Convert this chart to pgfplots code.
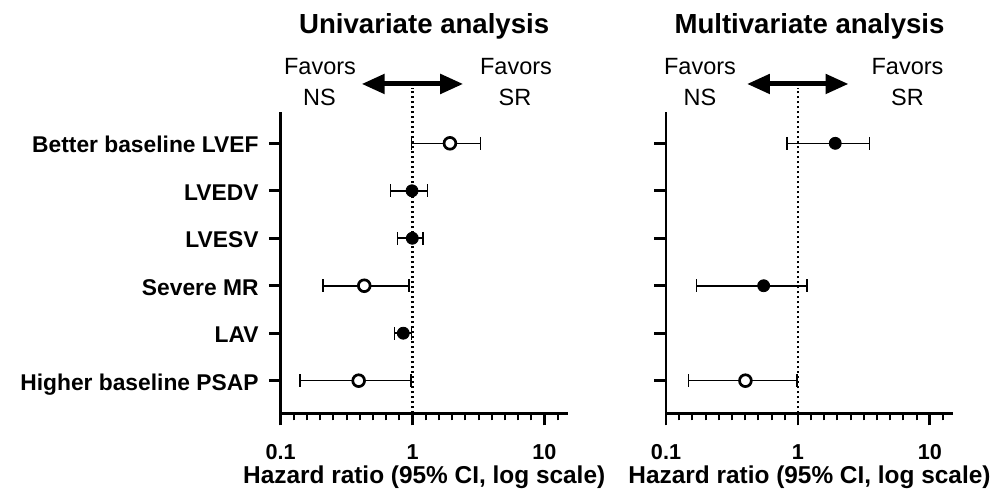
\documentclass[border=0pt]{standalone}
\usepackage{fontspec}
\setmainfont{Liberation Sans}
\usepackage{pgfplots}
\pgfplotsset{compat=1.18}
\usetikzlibrary{arrows.meta}

\pgfplotsset{
 hrbar/.style={black, line width=0.8pt, mark=|, mark size=3.2pt, mark options={solid, line width=0.8pt}},
 hrfill/.style={only marks, mark=*, mark size=3pt, mark options={fill=black, draw=black}},
 hropen/.style={only marks, mark=*, mark size=2.95pt, mark options={fill=white, draw=black, line width=1.35pt}},
 hrref/.style={black, line width=1.2pt, dash pattern=on 1.2pt off 1.3pt},
}
\tikzset{dblarrow/.style={line width=2.5pt, {Triangle[length=11.5pt,width=9.5pt]}-{Triangle[length=11.5pt,width=9.5pt]}}}

\begin{document}
\begin{tikzpicture}
\path[use as bounding box] (0,0) rectangle (500pt,245pt);

% ---------------- Univariate ----------------
\begin{axis}[
   xmode=log, log basis x=10, xmin=0.1, xmax=15, ymin=0.313, ymax=6.666,
   scale only axis, width=143.5pt, height=150.8pt,
   at={(140.35pt,38.35pt)}, anchor=south west,
   axis lines=left, axis line style={-, line width=1.35pt, black},
   tick align=outside, major tick length=6pt, minor tick length=3.5pt,
   major tick style={line width=1.35pt, black}, minor tick style={line width=1pt, black},
   xtick={0.1,1,10}, xticklabels={0.1,1,10},
   minor xtick={0.12589,0.15849,0.19953,0.25119,0.31623,0.39811,0.50119,0.63096,0.79433,1.2589,1.5849,1.9953,2.5119,3.1623,3.9811,5.0119,6.3096,7.9433,12.589},
   ytick={1,2,3,4,5,6},
   xticklabel style={font=\bfseries\fontsize{10.8}{12}\selectfont, anchor=base, inner sep=0pt, yshift=-17.3pt},
   xlabel={Hazard ratio (95\% CI, log scale)},
   xlabel style={font=\bfseries\fontsize{12.2}{14}\selectfont, at={(axis description cs:0.5,0)}, anchor=base, inner sep=0pt, yshift=-35.3pt},
   title={Univariate analysis},
   title style={font=\bfseries\fontsize{13.8}{16}\selectfont, at={(axis description cs:0.5,1)}, anchor=base, inner sep=0pt, yshift=33.2pt},
   clip=false,
   yticklabels={Higher baseline PSAP, LAV, Severe MR, LVESV, LVEDV, Better baseline LVEF},
   yticklabel style={font=\bfseries\fontsize{11.4}{13}\selectfont, anchor=base east, inner sep=0pt, xshift=-4.9pt, yshift=-4.7pt},
]
\addplot[hrref] coordinates {(1,0.313) (1,7.165)};
\draw[dblarrow] (axis cs:0.411,7.25) -- (axis cs:2.42,7.25);
% CI bars (lower, upper)
\addplot[hrbar] coordinates {(0.98,6) (3.27,6)};
\addplot[hrbar] coordinates {(0.68,5) (1.30,5)};
\addplot[hrbar] coordinates {(0.77,4) (1.20,4)};
\addplot[hrbar] coordinates {(0.21,3) (0.94,3)};
\addplot[hrbar] coordinates {(0.73,2) (0.98,2)};
\addplot[hrbar] coordinates {(0.14,1) (0.97,1)};
% point estimates
\addplot[hropen] coordinates {(1.92,6) (0.43,3) (0.39,1)};
\addplot[hrfill] coordinates {(0.99,5) (0.995,4) (0.85,2)};
\end{axis}

% ---------------- Multivariate ----------------
\begin{axis}[
   xmode=log, log basis x=10, xmin=0.1, xmax=15, ymin=0.313, ymax=6.666,
   scale only axis, width=143.5pt, height=150.8pt,
   at={(333pt,38.35pt)}, anchor=south west,
   axis lines=left, axis line style={-, line width=1.35pt, black},
   tick align=outside, major tick length=6pt, minor tick length=3.5pt,
   major tick style={line width=1.35pt, black}, minor tick style={line width=1pt, black},
   xtick={0.1,1,10}, xticklabels={0.1,1,10},
   minor xtick={0.12589,0.15849,0.19953,0.25119,0.31623,0.39811,0.50119,0.63096,0.79433,1.2589,1.5849,1.9953,2.5119,3.1623,3.9811,5.0119,6.3096,7.9433,12.589},
   ytick={1,2,3,4,5,6},
   xticklabel style={font=\bfseries\fontsize{10.8}{12}\selectfont, anchor=base, inner sep=0pt, yshift=-17.3pt},
   xlabel={Hazard ratio (95\% CI, log scale)},
   xlabel style={font=\bfseries\fontsize{12.2}{14}\selectfont, at={(axis description cs:0.5,0)}, anchor=base, inner sep=0pt, yshift=-35.3pt},
   title={Multivariate analysis},
   title style={font=\bfseries\fontsize{13.8}{16}\selectfont, at={(axis description cs:0.5,1)}, anchor=base, inner sep=0pt, yshift=33.2pt},
   clip=false,
   yticklabels={,,,,,},
]
\addplot[hrref] coordinates {(1,0.313) (1,7.165)};
\draw[dblarrow] (axis cs:0.411,7.25) -- (axis cs:2.42,7.25);
\addplot[hrbar] coordinates {(0.83,6) (3.48,6)};
\addplot[hrbar] coordinates {(0.17,3) (1.17,3)};
\addplot[hrbar] coordinates {(0.148,1) (0.98,1)};
\addplot[hrfill] coordinates {(1.92,6) (0.55,3)};
\addplot[hropen] coordinates {(0.40,1)};
\end{axis}

% ---------------- Favors annotations ----------------
\begin{scope}[every node/.style={font=\fontsize{11.75}{13}\selectfont, anchor=base, inner sep=0pt}]
\node at (160pt,207.5pt) {Favors};
\node at (159.75pt,192pt) {NS};
\node at (258pt,207.5pt) {Favors};
\node at (257.5pt,192pt) {SR};
\node at (350pt,207.5pt) {Favors};
\node at (350pt,192pt) {NS};
\node at (453.75pt,207.5pt) {Favors};
\node at (453.75pt,192pt) {SR};
\end{scope}
\end{tikzpicture}
\end{document}
